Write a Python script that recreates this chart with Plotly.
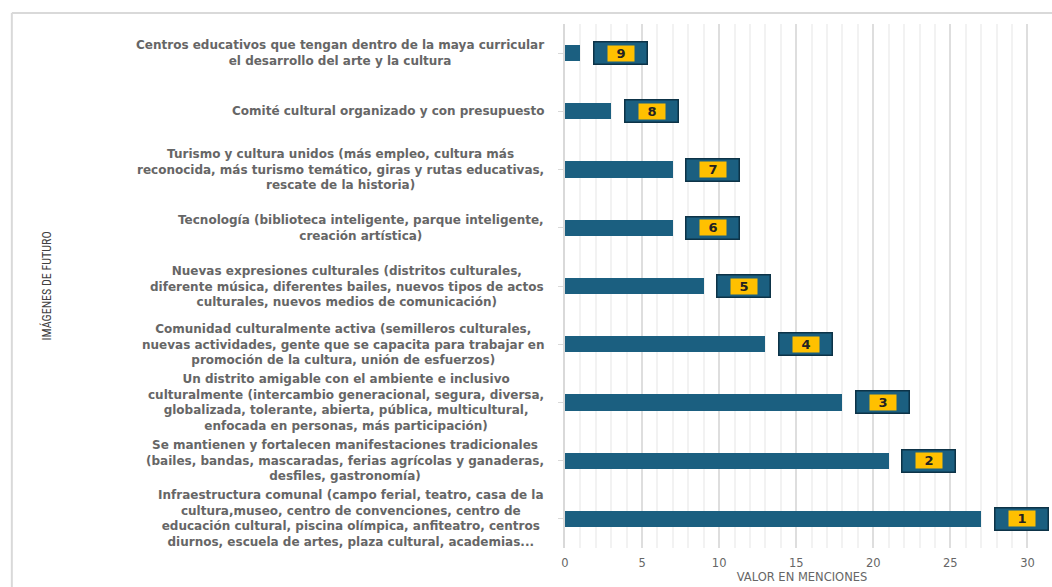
import plotly.graph_objects as go

categories = [
    "Infraestructura comunal (campo ferial, teatro, casa de la<br>cultura,museo, centro de convenciones, centro de<br>educación cultural, piscina olímpica, anfiteatro, centros<br>diurnos, escuela de artes, plaza cultural, academias...",
    "Se mantienen y fortalecen manifestaciones tradicionales<br>(bailes, bandas, mascaradas, ferias agrícolas y ganaderas,<br>desfiles, gastronomía)",
    "Un distrito amigable con el ambiente e inclusivo<br>culturalmente (intercambio generacional, segura, diversa,<br>globalizada, tolerante, abierta, pública, multicultural,<br>enfocada en personas, más participación)",
    "Comunidad culturalmente activa (semilleros culturales,<br>nuevas actividades, gente que se capacita para trabajar en<br>promoción de la cultura, unión de esfuerzos)",
    "Nuevas expresiones culturales (distritos culturales,<br>diferente música, diferentes bailes, nuevos tipos de actos<br>culturales, nuevos medios de comunicación)",
    "Tecnología (biblioteca inteligente, parque inteligente,<br>creación artística)",
    "Turismo y cultura unidos (más empleo, cultura más<br>reconocida, más turismo temático, giras y rutas educativas,<br>rescate de la historia)",
    "Comité cultural organizado y con presupuesto",
    "Centros educativos que tengan dentro de la maya curricular<br>el desarrollo del arte y la cultura",
]
values = [27, 21, 18, 13, 9, 7, 7, 3, 1]
ranks = ["1", "2", "3", "4", "5", "6", "7", "8", "9"]
x_ticks = [0, 5, 10, 15, 20, 25, 30]

BAR = "#1b5f80"
GOLD = "#FFC000"
GRAY = "#666666"
FONT = "DejaVu Sans"

ids = list(range(len(categories)))

fig = go.Figure()
fig.add_trace(go.Bar(
    y=ids, x=values, orientation="h",
    marker=dict(color=BAR, line=dict(width=0)),
    width=0.28, hoverinfo="skip",
))

annotations = []
for i, (cat, v, r) in enumerate(zip(categories, values, ranks)):
    annotations.append(dict(
        xref="paper", yref="y", x=0, y=i, xanchor="right", yanchor="middle",
        xshift=-19, text="<b>" + cat + "</b>", showarrow=False, align="center",
        font=dict(family=FONT, size=12, color=GRAY),
    ))
    annotations.append(dict(
        xref="x", yref="y", x=v + 0.8, y=i, xanchor="left", yanchor="middle",
        text="", showarrow=False, width=52, height=21,
        bgcolor=BAR, bordercolor="#0d3347", borderwidth=1.5, borderpad=0,
    ))
    annotations.append(dict(
        xref="x", yref="y", x=v + 0.8, y=i, xanchor="left", yanchor="middle",
        xshift=14, text="<b>" + r + "</b>", showarrow=False, width=26, height=15,
        bgcolor=GOLD, borderpad=0, align="center", valign="middle",
        font=dict(family=FONT, size=13, color="#222222"),
    ))

annotations.append(dict(
    xref="paper", yref="paper", x=-1.094, y=0.5, xanchor="center", yanchor="middle",
    text="IMÁGENES DE FUTURO", textangle=-90, showarrow=False,
    font=dict(family="Liberation Sans Narrow, Roboto Condensed, Liberation Sans", size=12, color="#404040"),
))

fig.update_layout(
    width=1052, height=587,
    margin=dict(l=565, r=13, t=24, b=39),
    paper_bgcolor="white", plot_bgcolor="white",
    showlegend=False, bargap=0,
    annotations=annotations,
    shapes=[
        dict(type="line", xref="paper", yref="paper", x0=-1.167, x1=1.05, y0=1.021, y1=1.021,
             line=dict(color="#d9d9d9", width=2)),
        dict(type="line", xref="paper", yref="paper", x0=-1.167, x1=-1.167, y0=-0.08, y1=1.021,
             line=dict(color="#d9d9d9", width=2)),
    ],
    xaxis=dict(
        range=[0, 30.75], tickvals=x_ticks, ticktext=[str(t) for t in x_ticks],
        showgrid=True, gridcolor="#dedede", gridwidth=1.5,
        minor=dict(dtick=1, showgrid=True, gridcolor="#f2f2f2", gridwidth=1.5),
        zeroline=False, showline=False, ticks="",
        tickfont=dict(family=FONT, size=11.5, color=GRAY),
        ticklabelstandoff=6,
        title=dict(text="VALOR EN MENCIONES", font=dict(family=FONT, size=11.5, color=GRAY), standoff=4),
        automargin=False, fixedrange=True,
    ),
    yaxis=dict(
        range=[-0.5, 8.5], tickvals=ids, showticklabels=False,
        tickson="boundaries", ticks="outside", ticklen=5, tickcolor="#d9d9d9",
        showline=True, linecolor="#d9d9d9", linewidth=1.5,
        showgrid=False, zeroline=False, automargin=False, fixedrange=True,
    ),
)

fig.write_html("out.html")
